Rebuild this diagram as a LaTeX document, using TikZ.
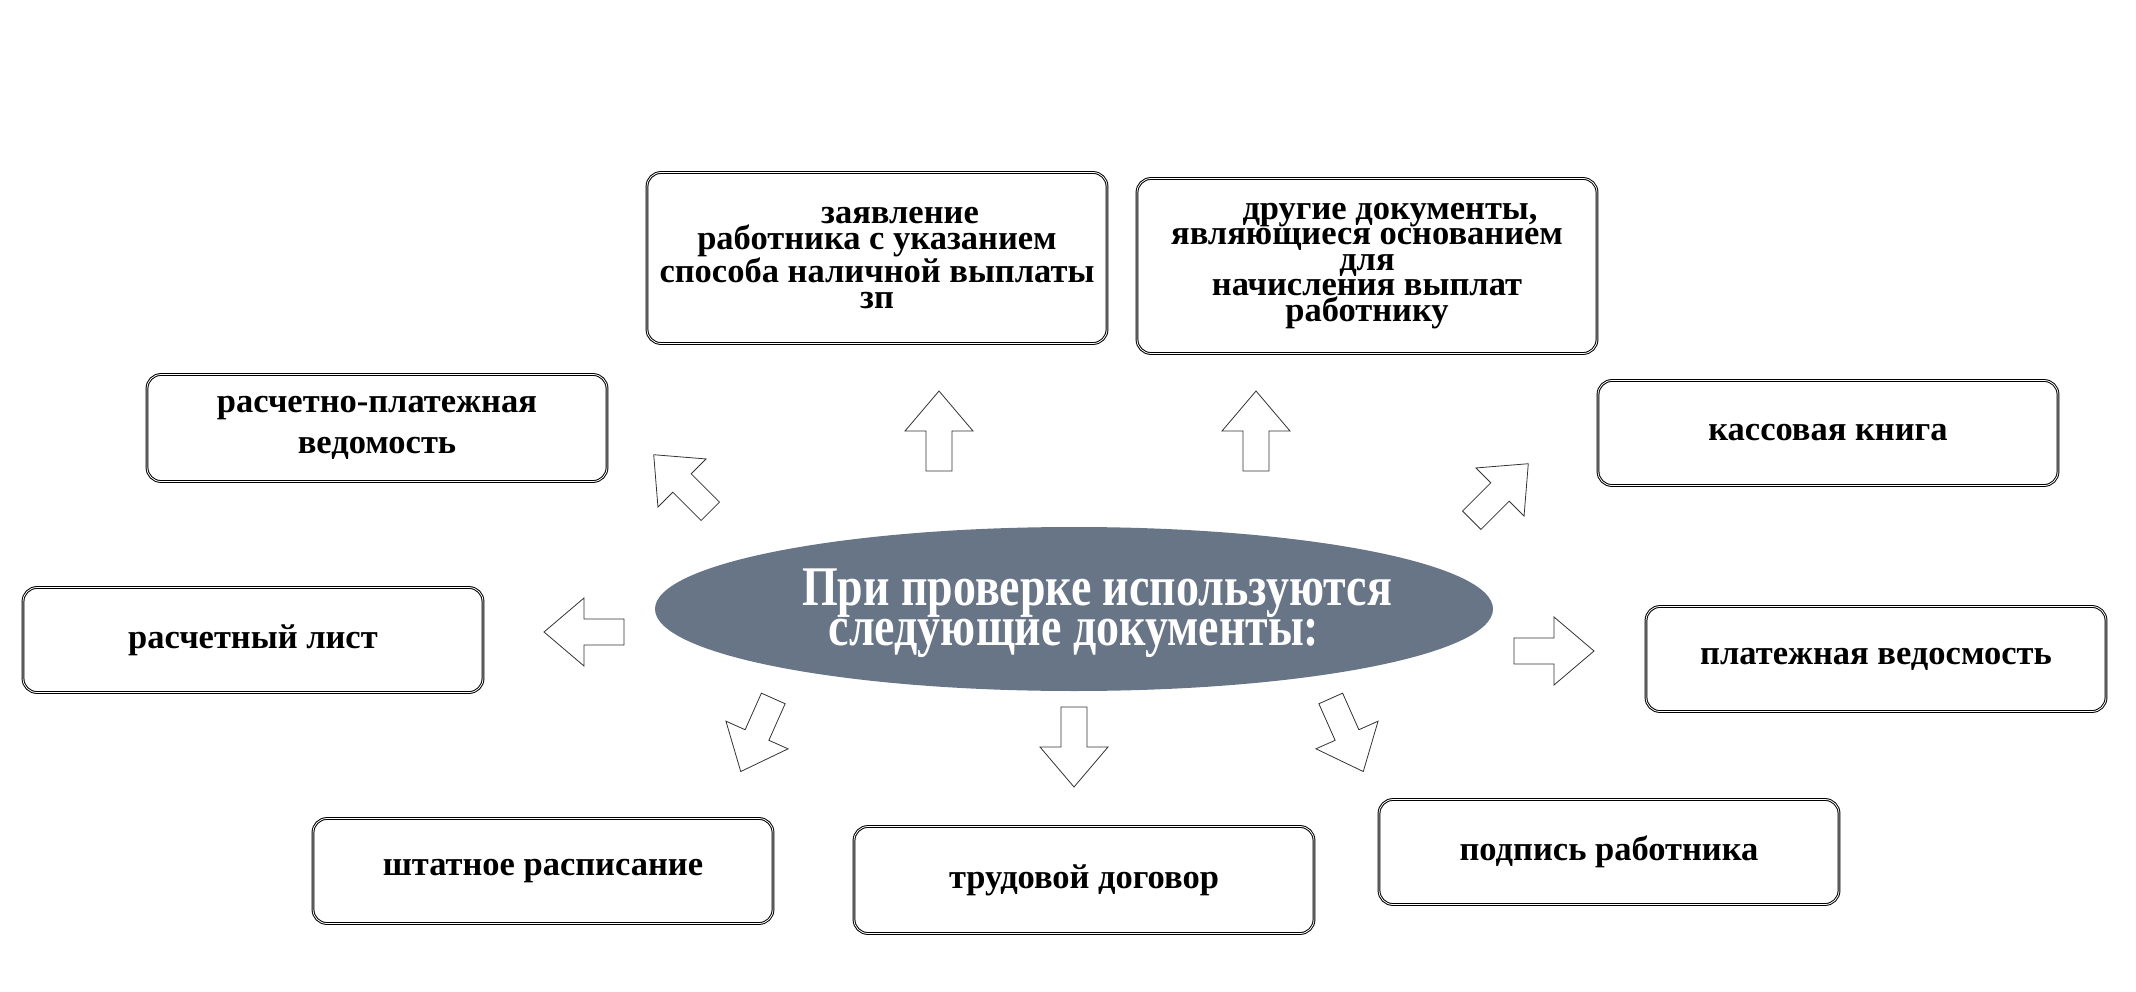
\documentclass[tikz,border=0pt]{standalone}
\usepackage{fontspec}
\setmainfont{Liberation Serif}
\newfontfamily\condfont[FakeStretch=0.82]{Liberation Serif}
\definecolor{slate}{HTML}{677587}
\tikzset{
  docbox/.style={draw=black, line width=1pt, double=white, double distance=0.8pt,
    rounded corners=14pt, fill=white, minimum width=460pt, align=center,
    font=\fontsize{34.5}{25.5}\selectfont\bfseries, inner sep=2pt},
  arrowline/.style={draw=black!80, line width=0.8pt, fill=white, line join=miter},
  blockarrow/.pic={\path[arrowline] (-40,-13) -- (0,-13) -- (0,-34) -- (40,0) -- (0,34) -- (0,13) -- (-40,13) -- cycle;}
}
\begin{document}
\begin{tikzpicture}[x=1pt,y=-1pt]
\useasboundingbox (0,0) rectangle (2136,992);
% boxes
\node[docbox, minimum height=171pt] (zayav) at (877,258) {\hspace*{46pt}заявление\\работника с указанием\\способа наличной выплаты\\зп};
\node[docbox, minimum height=175pt] (drugie) at (1367,266) {\hspace*{46pt}другие документы,\\являющиеся основанием\\для\\начисления выплат\\работнику};
\node[docbox, minimum height=107pt, font=\fontsize{34.5}{41}\selectfont\bfseries] (rasplat) at (377,428) {расчетно-платежная\\ведомость};
\node[docbox, minimum height=105pt] (kassa) at (1828,433) {кассовая книга};
\node[docbox, minimum height=105pt] (raslist) at (253,640) {расчетный лист};
\node[docbox, minimum height=105pt] (plat) at (1876,659) {платежная ведосмость};
\node[docbox, minimum height=105pt] (shtat) at (543,871) {штатное расписание};
\node[docbox, minimum height=107pt] (trud) at (1084,880) {трудовой договор};
\node[docbox, minimum height=105pt] (podpis) at (1609,852) {подпись работника};
% central ellipse
\fill[slate] (1074,609) ellipse [x radius=419, y radius=82];
\node[text=white, align=center, font=\condfont\fontsize{56}{28}\selectfont\bfseries] (center) at (1074,613) {\hspace*{46pt}При проверке используются\\следующие документы:};
% block arrows
\pic[rotate=90] (aup1) at (939,431) {blockarrow};
\pic[rotate=90] (aup2) at (1256,431) {blockarrow};
\pic[rotate=135] (anw) at (682,483) {blockarrow};
\pic[rotate=45] (ane) at (1500,492) {blockarrow};
\pic[rotate=180] (aleft) at (584,632) {blockarrow};
\pic[rotate=0] (aright) at (1554,651) {blockarrow};
\pic[rotate=-114] (asw) at (757,735) {blockarrow};
\pic[rotate=-90] (adown) at (1074,747) {blockarrow};
\pic[rotate=-66] (ase) at (1347,735) {blockarrow};
\end{tikzpicture}
\end{document}
